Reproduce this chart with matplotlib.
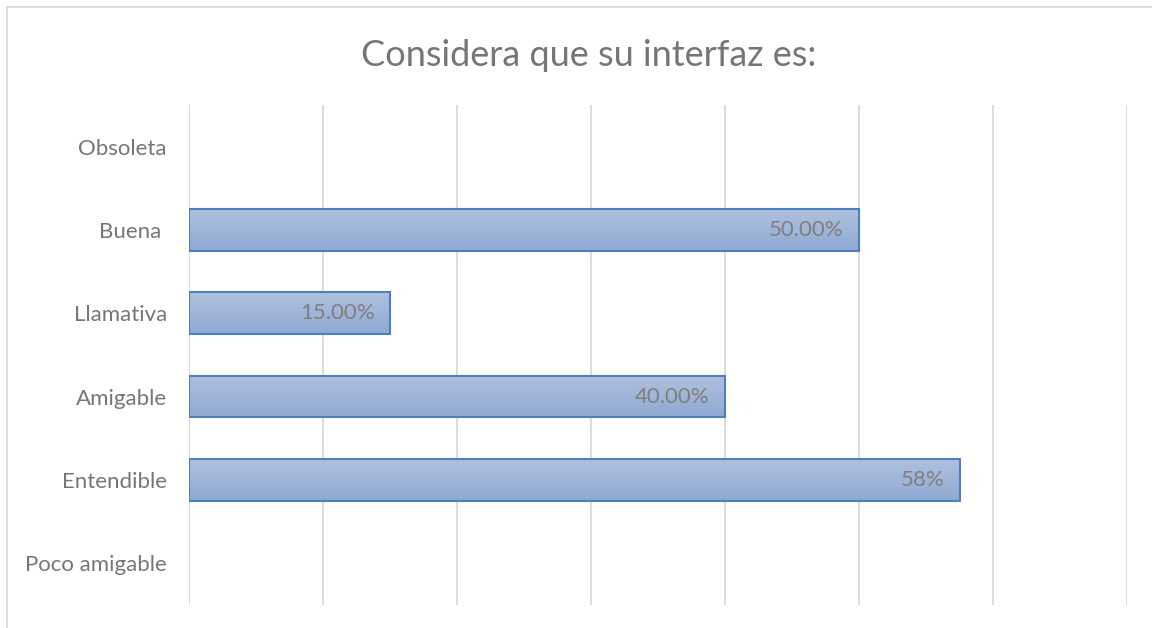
import matplotlib
matplotlib.use("Agg")
import matplotlib.pyplot as plt
import numpy as np
from matplotlib.patches import Rectangle
from matplotlib.colors import LinearSegmentedColormap

categories = ["Obsoleta", "Buena ", "Llamativa", "Amigable", "Entendible", "Poco amigable"]
values = [0, 50, 15, 40, 57.5, 0]
labels = ["", "50.00%", "15.00%", "40.00%", "58%", ""]
title = "Considera que su interfaz es:"

plt.rcParams['font.family'] = ['Lato', 'DejaVu Sans']

W, H = 1152, 628
fig = plt.figure(figsize=(W/100, H/100), dpi=100)
fig.patch.set_facecolor("white")
# outer chart border
fig.add_artist(Rectangle((7/W, -0.1), 1.2, 1 - 7/H + 0.1, transform=fig.transFigure,
                         fill=False, edgecolor="#d9d9d9", linewidth=1.3))

ax = fig.add_axes([189/W, (H-605)/H, (1127-189)/W, (605-105)/H])
for s in ax.spines.values():
    s.set_visible(False)
ax.set_xticks(np.arange(0, 71, 10))
ax.set_xticklabels([])
ax.tick_params(length=0)
ax.grid(axis="x", color="#d9d9d9", linewidth=1.3)
ax.set_axisbelow(True)

grad = np.linspace(0, 1, 100).reshape(-1, 1)
cmap = LinearSegmentedColormap.from_list("g", ["#b0c1de", "#8fa9d3"])
h = 0.5
for i, (v, lab) in enumerate(zip(values, labels)):
    if v <= 0:
        continue
    ax.imshow(grad, extent=(0, v, i + h/2, i - h/2), aspect="auto", cmap=cmap,
              origin="upper", zorder=2, interpolation="bilinear")
    ax.add_patch(Rectangle((0, i - h/2), v, h, fill=False, edgecolor="#4f7fbf",
                           linewidth=1.5, zorder=3))
    ax.annotate(lab, xy=(v, i), xytext=(-11, 0), textcoords="offset points",
                ha="right", va="center", fontsize=16, color="#7f7f7f", zorder=4)
ax.set_xlim(0, 70)
ax.set_ylim(len(categories)-0.5, -0.5)

ax.set_yticks(range(len(categories)))
ax.set_yticklabels(categories, fontsize=16, color="#767676")
ax.tick_params(axis="y", pad=16)

fig.text(589/W, 1 - 56/H, title, ha="center", va="center", fontsize=26, color="#767676")

fig.savefig("out.png", dpi=100)
